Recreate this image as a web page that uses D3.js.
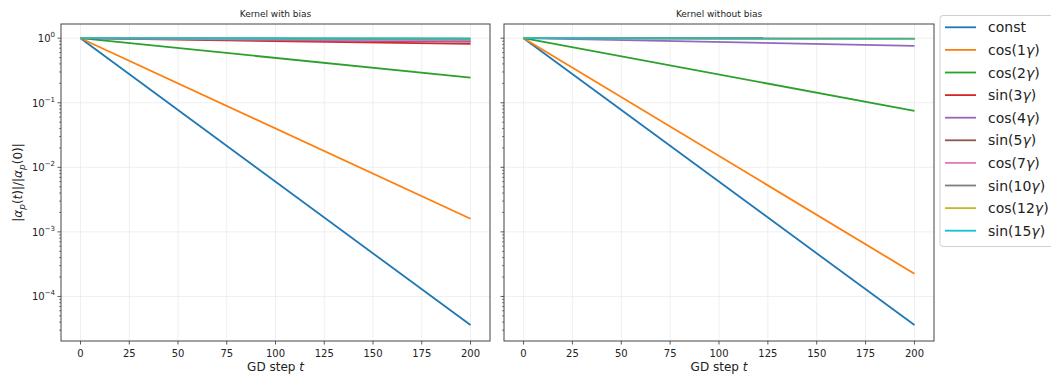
<!DOCTYPE html>
<html><head><meta charset="utf-8">
<script src="https://cdn.jsdelivr.net/npm/d3@7"></script>
<style>body{margin:0;background:#fff;font-family:"DejaVu Sans",sans-serif;}</style>
</head><body><svg id="c" width="1051" height="378"></svg>
<script>
const steps = [0, 200];
const seriesNames = ["const","cos(1γ)","cos(2γ)","sin(3γ)","cos(4γ)","sin(5γ)","cos(7γ)","sin(10γ)","cos(12γ)","sin(15γ)"];
const colors = ["#1f77b4","#ff7f0e","#2ca02c","#d62728","#9467bd","#8c564b","#e377c2","#7f7f7f","#bcbd22","#17becf"];
const withBias = [[1,3.6e-5],[1,1.6e-3],[1,0.245],[1,0.815],[1,0.88],[1,0.9],[1,0.92],[1,0.96],[1,0.985],[1,0.995]];
const withoutBias = [[1,3.6e-5],[1,2.25e-4],[1,0.075],[1,0.99],[1,0.76],[1,0.99],[1,0.98],[1,0.985],[1,0.965],[1,0.995]];
const panelTitles = ["Kernel with bias","Kernel without bias"];
const xTicks = [0,25,50,75,100,125,150,175,200];
const yTickExps = [0,-1,-2,-3,-4];

const svg = d3.select("#c");
const plotTop = 24, plotBottom = 341;
const panels = [{x0:61,x1:490,data:withBias,labels:true},{x0:504,x1:934,data:withoutBias,labels:false}];
const y = d3.scaleLog().domain([Math.pow(10,-4.69),Math.pow(10,0.22)]).range([plotBottom,plotTop]);

panels.forEach((p,pi)=>{
  const x = d3.scaleLinear().domain([-10,210]).range([p.x0,p.x1]);
  const g = svg.append("g");
  g.selectAll(".gx").data(xTicks).enter().append("line")
    .attr("x1",d=>x(d)).attr("x2",d=>x(d)).attr("y1",plotTop).attr("y2",plotBottom)
    .attr("stroke","#ebebeb").attr("stroke-width",0.8);
  g.selectAll(".gy").data(yTickExps).enter().append("line")
    .attr("x1",p.x0).attr("x2",p.x1).attr("y1",d=>y(Math.pow(10,d))).attr("y2",d=>y(Math.pow(10,d)))
    .attr("stroke","#ebebeb").attr("stroke-width",0.8);
  const line = d3.line().x((d,i)=>x(steps[i])).y(d=>y(d));
  p.data.forEach((s,i)=>{
    g.append("path").attr("d",line(s)).attr("fill","none").attr("stroke",colors[i]).attr("stroke-width",1.8);
  });
  g.append("rect").attr("x",p.x0).attr("y",plotTop).attr("width",p.x1-p.x0).attr("height",plotBottom-plotTop)
    .attr("fill","none").attr("stroke","#444").attr("stroke-width",1);
  xTicks.forEach(t=>{
    g.append("line").attr("x1",x(t)).attr("x2",x(t)).attr("y1",plotBottom).attr("y2",plotBottom+3.5).attr("stroke","#333").attr("stroke-width",0.8);
    g.append("text").attr("x",x(t)).attr("y",plotBottom+16).attr("text-anchor","middle").attr("font-size",10).attr("fill","#222").text(t);
  });
  const xl = g.append("text").attr("x",(p.x0+p.x1)/2).attr("y",plotBottom+30).attr("text-anchor","middle").attr("font-size",12).attr("fill","#222");
  xl.append("tspan").text("GD step ");
  xl.append("tspan").attr("font-style","italic").text("t");
  g.append("text").attr("x",(p.x0+p.x1)/2).attr("y",17).attr("text-anchor","middle").attr("font-size",9).attr("fill","#222").text(panelTitles[pi]);
  for(let e=-5;e<=0;e++){
    for(let m=1;m<=9;m++){
      const v = m*Math.pow(10,e);
      if(v<y.domain()[0]||v>y.domain()[1]) continue;
      const major = m===1;
      g.append("line").attr("x1",p.x0).attr("x2",p.x0-(major?3.5:2)).attr("y1",y(v)).attr("y2",y(v))
        .attr("stroke","#333").attr("stroke-width",major?0.8:0.6);
    }
  }
  if(p.labels){
    yTickExps.forEach(e=>{
      const t = g.append("text").attr("x",p.x0-6).attr("y",y(Math.pow(10,e))+4).attr("text-anchor","end").attr("font-size",10).attr("fill","#222");
      t.append("tspan").text("10");
      t.append("tspan").attr("font-size",7).attr("dy",-5).text(e===0?"0":"−"+(-e));
    });
  }
});

const yl = svg.append("text").attr("transform",`translate(22,${(plotTop+plotBottom)/2}) rotate(-90)`).attr("text-anchor","middle").attr("font-size",12).attr("fill","#222");
yl.append("tspan").text("|");
yl.append("tspan").attr("font-style","italic").text("α");
yl.append("tspan").attr("font-style","italic").attr("font-size",9).attr("dy",3).text("p");
yl.append("tspan").attr("dy",-3).text("(");
yl.append("tspan").attr("font-style","italic").text("t");
yl.append("tspan").text(")|/|");
yl.append("tspan").attr("font-style","italic").text("α");
yl.append("tspan").attr("font-style","italic").attr("font-size",9).attr("dy",3).text("p");
yl.append("tspan").attr("dy",-3).text("(0)|");

const lg = svg.append("g");
lg.append("rect").attr("x",940).attr("y",15.5).attr("width",120).attr("height",231).attr("rx",3)
  .attr("fill","#fff").attr("stroke","#d0d0d0").attr("stroke-width",1);
seriesNames.forEach((n,i)=>{
  const yy = 27.3 + i*22.6;
  lg.append("line").attr("x1",945).attr("x2",976).attr("y1",yy).attr("y2",yy).attr("stroke",colors[i]).attr("stroke-width",1.8);
  const t = lg.append("text").attr("x",988).attr("y",yy+5).attr("font-size",14).attr("fill","#222");
  const m = n.match(/^(.*?)(γ)(\))$/);
  if(m){
    t.append("tspan").text(m[1]);
    t.append("tspan").attr("font-style","italic").text("γ");
    t.append("tspan").text(")");
  } else t.text(n);
});
</script></body></html>
